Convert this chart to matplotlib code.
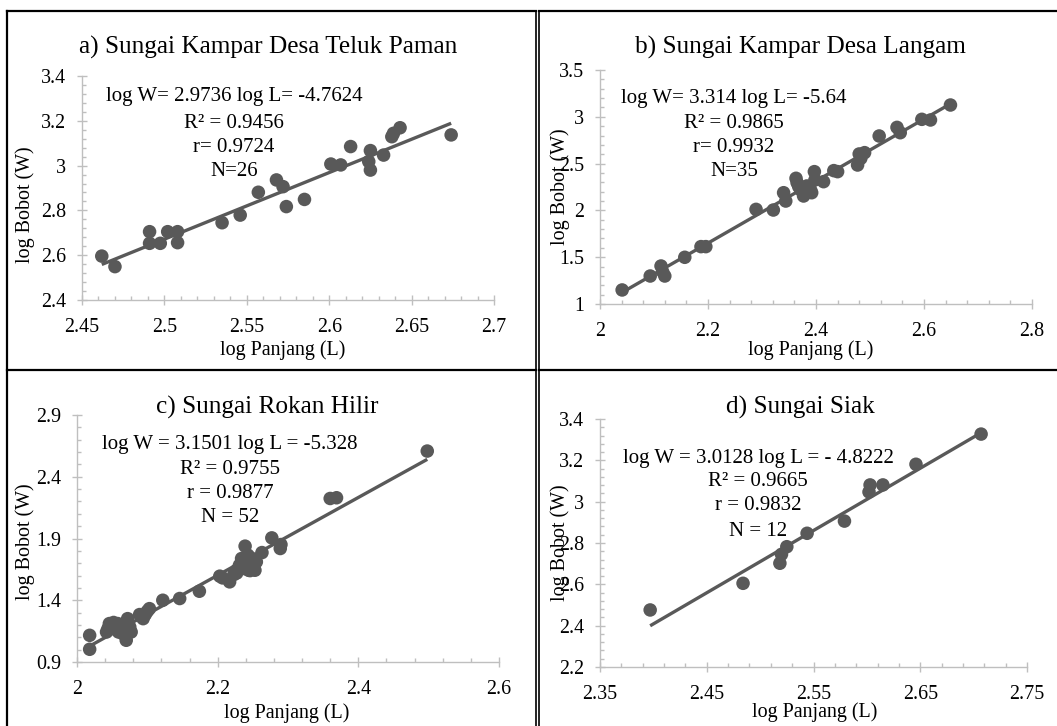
import matplotlib
matplotlib.use('Agg')
import matplotlib.pyplot as plt
from matplotlib.ticker import AutoMinorLocator, FixedLocator, FuncFormatter
from matplotlib.lines import Line2D
import numpy as np

plt.rcParams['font.family'] = ['Liberation Serif', 'DejaVu Serif']

# ---------------- data ----------------
a_L = [2.462, 2.470, 2.491, 2.491, 2.4975, 2.502, 2.508, 2.508, 2.535, 2.546, 2.557, 2.568, 2.572,
       2.574, 2.585, 2.601, 2.607, 2.613, 2.625, 2.624, 2.625, 2.633, 2.638, 2.639, 2.643, 2.674]
a_W = [2.596, 2.549, 2.705, 2.653, 2.653, 2.705, 2.705, 2.656, 2.745, 2.779, 2.881, 2.936, 2.906,
       2.817, 2.849, 3.007, 3.003, 3.085, 3.067, 3.018, 2.980, 3.047, 3.129, 3.144, 3.169, 3.137]

b_L = [2.041, 2.093, 2.113, 2.116, 2.120, 2.157, 2.187, 2.196, 2.289, 2.321, 2.340, 2.344, 2.363,
       2.365, 2.368, 2.372, 2.377, 2.383, 2.390, 2.392, 2.397, 2.398, 2.414, 2.433, 2.440, 2.477,
       2.480, 2.483, 2.490, 2.517, 2.550, 2.556, 2.596, 2.612, 2.649]
b_W = [1.150, 1.299, 1.406, 1.345, 1.299, 1.499, 1.613, 1.613, 2.011, 2.004, 2.189, 2.100, 2.343,
       2.296, 2.254, 2.218, 2.154, 2.261, 2.218, 2.189, 2.414, 2.325, 2.307, 2.425, 2.414, 2.485,
       2.603, 2.556, 2.617, 2.795, 2.887, 2.830, 2.973, 2.966, 3.126]

c_L = [2.018, 2.018, 2.044, 2.046, 2.050, 2.055, 2.058, 2.059, 2.063, 2.065, 2.067, 2.070, 2.072,
       2.075, 2.077, 2.089, 2.094, 2.097, 2.100, 2.103, 2.122, 2.146, 2.174, 2.203, 2.207, 2.217,
       2.223, 2.227, 2.231, 2.234, 2.237, 2.239, 2.241, 2.243, 2.244, 2.246, 2.249, 2.253, 2.255,
       2.263, 2.277, 2.289, 2.290, 2.360, 2.369, 2.498, 2.042, 2.052, 2.068, 2.093, 2.227, 2.246]
c_W = [1.116, 1.003, 1.170, 1.211, 1.197, 1.170, 1.211, 1.143, 1.184, 1.130, 1.170, 1.076, 1.251,
       1.184, 1.143, 1.284, 1.251, 1.284, 1.311, 1.332, 1.400, 1.414, 1.473, 1.595, 1.581, 1.549,
       1.608, 1.643, 1.684, 1.738, 1.657, 1.838, 1.711, 1.765, 1.643, 1.697, 1.738, 1.643, 1.711,
       1.786, 1.905, 1.819, 1.851, 2.224, 2.230, 2.608, 1.143, 1.220, 1.190, 1.262, 1.620, 1.640]

d_L = [2.397, 2.484, 2.5185, 2.520, 2.525, 2.544, 2.579, 2.603, 2.615, 2.602, 2.646, 2.707]
d_W = [2.476, 2.605, 2.702, 2.745, 2.782, 2.847, 2.906, 3.081, 3.081, 3.047, 3.181, 3.327]

slopes = [2.9736, 3.314, 3.1501, 3.0128]
intercepts = [-4.7624, -5.64, -5.328, -4.8222]

titles = ["a) Sungai Kampar Desa Teluk Paman", "b) Sungai Kampar Desa Langam",
          "c) Sungai Rokan Hilir", "d) Sungai Siak"]
equations = [
    ["log W= 2.9736 log L= -4.7624", "R² = 0.9456", "r= 0.9724", "N=26"],
    ["log W= 3.314 log L= -5.64", "R² = 0.9865", "r= 0.9932", "N=35"],
    ["log W = 3.1501 log L = -5.328", "R² = 0.9755", "r = 0.9877", "N = 52"],
    ["log W = 3.0128 log L = - 4.8222", "R² = 0.9665", "r = 0.9832", "N = 12"],
]
xticks_all = [[2.45, 2.5, 2.55, 2.6, 2.65, 2.7], [2.0, 2.2, 2.4, 2.6, 2.8],
              [2.0, 2.2, 2.4, 2.6], [2.35, 2.45, 2.55, 2.65, 2.75]]
yticks_all = [[2.4, 2.6, 2.8, 3.0, 3.2, 3.4], [1.0, 1.5, 2.0, 2.5, 3.0, 3.5],
              [0.9, 1.4, 1.9, 2.4, 2.9], [2.2, 2.4, 2.6, 2.8, 3.0, 3.2, 3.4]]
xlabel = "log Panjang (L)"
ylabel = "log Bobot (W)"

# ---------------- layout (pixels) ----------------
W, H = 1057, 726
fig = plt.figure(figsize=(W / 100, H / 100), dpi=100)

def fx(px):
    return px / W

def fy(py):
    return 1 - py / H

# axes rect: x0, ytop, x1, ybottom
rects = [(82, 76, 494, 300), (600, 70, 1032, 304), (77, 415, 499, 662), (600, 419, 1027, 667)]
title_pos = [(268, 47), (800, 47), (267, 407), (800, 407)]
eq_pos = [(234, [97, 123, 147, 172]), (734, [98, 123, 147, 172]),
          (230, [444, 469, 494, 517]), (758, [458, 482, 506, 531])]
xlabel_pos = [(283, 350), (811, 350), (287, 713), (815, 712)]
ylabel_pos = [(25, 205), (560, 187), (25, 542), (560, 543)]

datasets = [(a_L, a_W), (b_L, b_W), (c_L, c_W), (d_L, d_W)]
col = '#595959'
gray = '#bfbfbf'
fs = 14.4

for i in range(4):
    x0, yt, x1, yb = rects[i]
    ax = fig.add_axes([fx(x0), fy(yb), fx(x1) - fx(x0), fy(yt) - fy(yb)])
    L, Wt = datasets[i]
    L = np.array(L); Wt = np.array(Wt)
    xs = np.array([L.min(), L.max()])
    ax.plot(xs, slopes[i] * xs + intercepts[i], color=col, lw=2.4, zorder=2, solid_capstyle='butt')
    ax.scatter(L, Wt, s=95, color=col, edgecolors='none', zorder=3, clip_on=False)

    xt = xticks_all[i]; yt_ = yticks_all[i]
    ax.set_xlim(xt[0], xt[-1]); ax.set_ylim(yt_[0], yt_[-1])
    ax.xaxis.set_major_locator(FixedLocator(xt))
    ax.yaxis.set_major_locator(FixedLocator(yt_))
    ax.xaxis.set_minor_locator(AutoMinorLocator(5))
    ax.yaxis.set_minor_locator(AutoMinorLocator(5))
    fmt = FuncFormatter(lambda v, _: f"{round(v, 4):g}")
    ax.xaxis.set_major_formatter(fmt); ax.yaxis.set_major_formatter(fmt)

    for s in ['top', 'right']:
        ax.spines[s].set_visible(False)
    for s in ['left', 'bottom']:
        ax.spines[s].set_color(gray); ax.spines[s].set_linewidth(1.0)
    ax.tick_params(which='major', direction='inout', length=6.5, width=1.0, color=gray,
                   labelsize=fs, labelcolor='black')
    ax.tick_params(which='minor', direction='in', length=3, width=1.0, color=gray)
    ax.tick_params(axis='x', which='major', pad=10)
    ax.tick_params(axis='y', which='major', pad=8)
    ax.set_facecolor('none')

    fig.text(fx(title_pos[i][0]), fy(title_pos[i][1]), titles[i], ha='center', va='center', fontsize=18.2)
    cx, ys = eq_pos[i]
    for line, yy in zip(equations[i], ys):
        fig.text(fx(cx), fy(yy), line, ha='center', va='center', fontsize=15, zorder=5)
    fig.text(fx(xlabel_pos[i][0]), fy(xlabel_pos[i][1]), xlabel, ha='center', va='center', fontsize=fs)
    fig.text(fx(ylabel_pos[i][0]), fy(ylabel_pos[i][1]), ylabel, ha='center', va='center',
             fontsize=fs, rotation=90, zorder=5)

# ---------------- table frame ----------------
def hline(x0, x1, y, lw=1.6):
    fig.add_artist(Line2D([fx(x0), fx(x1)], [fy(y), fy(y)], transform=fig.transFigure,
                          color='black', lw=lw, solid_capstyle='projecting'))

def vline(x, y0, y1, lw=1.6):
    fig.add_artist(Line2D([fx(x), fx(x)], [fy(y0), fy(y1)], transform=fig.transFigure,
                          color='black', lw=lw, solid_capstyle='projecting'))

hline(7, 535.8, 11)
hline(539.2, 1057, 11)
vline(7, 11, 726)
vline(535.8, 11, 726, lw=1.2)
vline(539.2, 11, 726, lw=1.2)
hline(7, 535.8, 370)
hline(539.2, 1057, 370)

fig.savefig('out.png', dpi=100)
